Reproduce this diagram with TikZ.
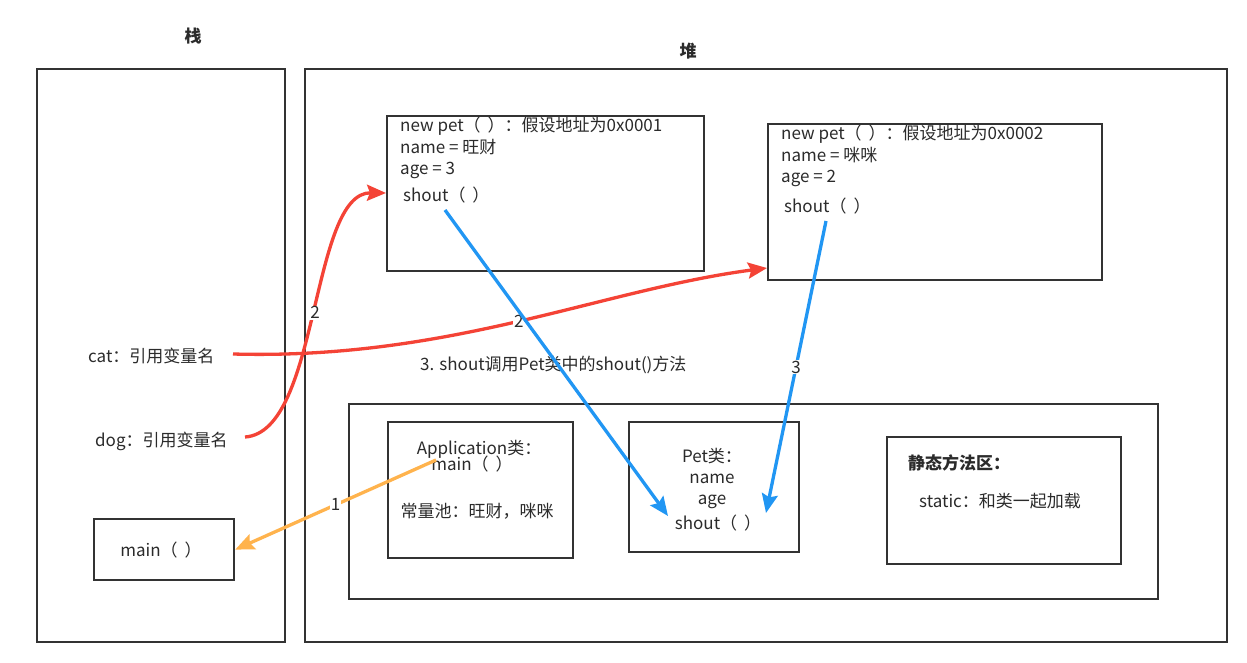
\documentclass[tikz,border=0pt]{standalone}
\usepackage{fontspec}
\setmainfont{Noto Sans CJK SC}
\usetikzlibrary{arrows.meta,calc}
\definecolor{bd}{HTML}{333333}
\definecolor{tx}{HTML}{2B2B2B}
\definecolor{redl}{HTML}{F44336}
\definecolor{bluel}{HTML}{2196F3}
\definecolor{orgl}{HTML}{FFB34D}
\newcommand{\pp}{（\hspace{7pt}）}
\begin{document}
\begin{tikzpicture}[x=1pt,y=-1pt,
  box/.style={draw=bd,line width=2.2pt,anchor=north west,inner sep=0pt,fill=white},
  txt/.style={text=tx,font=\fontsize{17}{21}\selectfont,inner sep=0pt},
  ttl/.style={text=tx,font=\fontsize{17}{21}\selectfont\bfseries,inner sep=0pt},
  lt/.style={txt,anchor=base west},
  ct/.style={txt,anchor=base},
  arr/.style={line width=3.3pt,-{Stealth[length=19pt,width=16pt,inset=3pt]}},
  num/.style={text=tx,font=\fontsize{17}{21}\selectfont,fill=white,inner sep=1pt}]
\useasboundingbox (0,0) rectangle (1247,663);
\fill[white] (0,0) rectangle (1247,663);

% titles
\node[ttl,anchor=base] (tstack) at (193,43) {栈};
\node[ttl,anchor=base] (theap) at (688,58) {堆};
\node[ttl,anchor=base] (tmeth) at (1041,393) {方法区};

% outer boxes
\node[box,minimum width=248pt,minimum height=573pt] (stack) at (36,68) {};
\node[box,minimum width=922pt,minimum height=573pt] (heap) at (304,68) {};
\node[box,minimum width=317pt,minimum height=155pt] (b1) at (386,115) {};
\node[box,minimum width=334pt,minimum height=156pt] (b2) at (767,123) {};
\node[box,minimum width=809pt,minimum height=195pt] (meth) at (348,403) {};
\node[box,minimum width=185pt,minimum height=136pt] (app) at (387,421) {};
\node[box,minimum width=170pt,minimum height=130pt] (pet) at (628,421) {};
\node[box,minimum width=234pt,minimum height=127pt] (stat) at (886,436) {};
\node[box,minimum width=140pt,minimum height=61pt] (mainb) at (93,518) {};

% box 1 text
\node[lt] (n1a) at (400,132) {new pet\pp：假设地址为0x0001};
\node[lt] (n1b) at (400,154) {name = 旺财};
\node[lt] (n1c) at (400,175) {age = 3};
\node[lt] (s1) at (403,201) {shout\pp};
% box 2 text
\node[lt] (n2a) at (781,140) {new pet\pp：假设地址为0x0002};
\node[lt] (n2b) at (781,162) {name = 咪咪};
\node[lt] (n2c) at (781,183) {age = 2};
\node[lt] (s2) at (784,212) {shout\pp};

% stack texts
\node[lt] (cat) at (88,362) {cat：引用变量名};
\node[lt] (dog) at (95,446) {dog：引用变量名};
\node[ct] (mtxt) at (161,556) {main\pp};

% application
\node[ct] (appt) at (479,454) {Application类：};
\node[ct] (am) at (472,470) {main\pp};
\node[ct] (pool) at (477,517) {常量池：旺财，咪咪};
% pet class
\node[ct] (pt) at (712,462) {Pet类：};
\node[ct] (pn) at (712,483) {name};
\node[ct] (pa) at (712,504) {age};
\node[ct] (ps) at (718,529) {shout\pp};
% static
\node[ttl,anchor=base west] (st) at (908,469) {静态方法区：};
\node[lt] (sl) at (919,507) {static：和类一起加载};

% middle label
\node[lt] (call) at (420,370) {3. shout调用Pet类中的shout()方法};

% coordinates
\coordinate (r1s) at (233,354);
\coordinate (r1e) at (767,268);
\coordinate (r2s) at (245,437);
\coordinate (r2e) at (386,193);
\coordinate (bl1s) at (445,210);
\coordinate (bl1e) at (668,516);
\coordinate (bl2s) at (826,221);
\coordinate (bl2e) at (766,513);
\coordinate (o1s) at (436,460);

% arrows
\draw[arr,redl] (r1s) .. controls (450,360) and (600,290) .. (r1e) node[num,pos=0.5] {2};
\draw[arr,redl] (r2s) .. controls (320,432) and (310,192) .. (r2e) node[num,pos=0.5] {2};
\draw[arr,bluel] (bl1s) -- (bl1e);
\draw[arr,bluel] (bl2s) -- (bl2e) node[num,pos=0.5] {3};
\draw[arr,orgl] (o1s) -- (mainb.east) node[num,pos=0.5] {1};
\end{tikzpicture}
\end{document}
